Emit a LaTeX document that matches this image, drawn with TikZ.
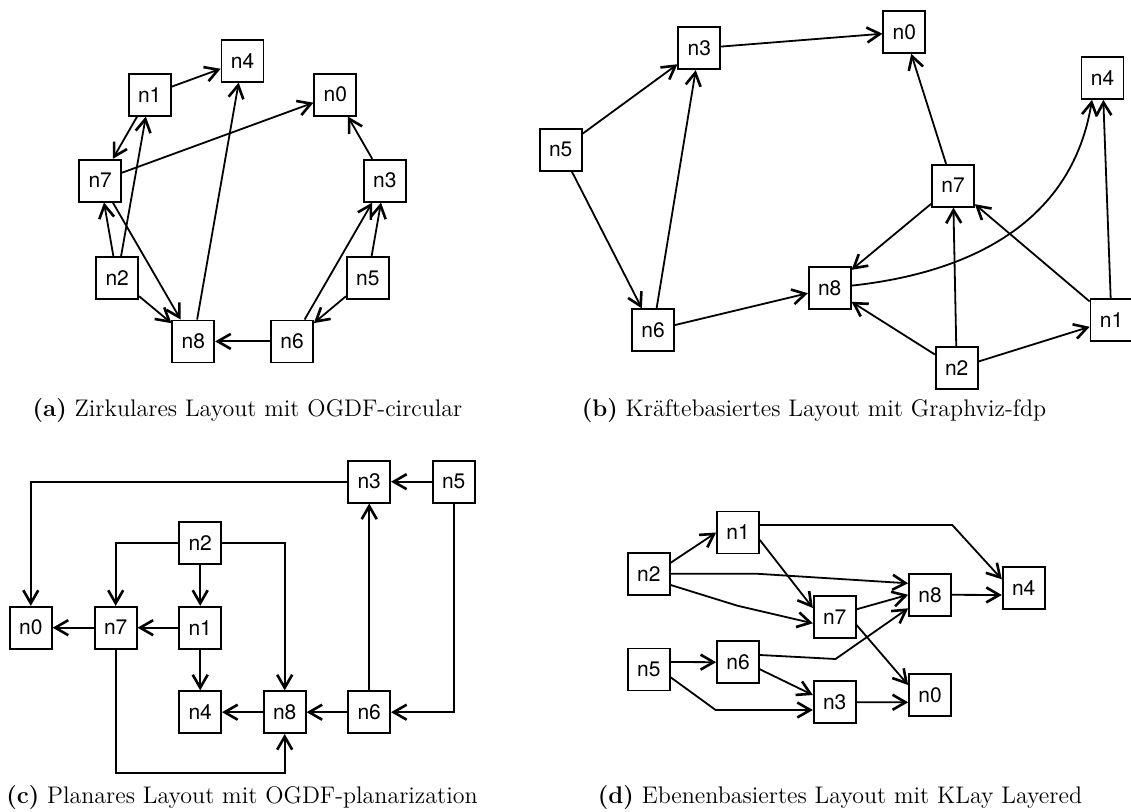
\documentclass[tikz,border=0pt]{standalone}
\usepackage{fontspec}
\newfontfamily\nodefont{TeX Gyre Heros}
\usetikzlibrary{arrows.meta}

\tikzset{
  vertex/.style={draw, rectangle, minimum size=21pt, inner sep=0pt, line width=0.85pt,
                 font=\nodefont\fontsize{10.5}{11}\selectfont},
  subcap/.style={anchor=base, font=\fontsize{12}{14}\selectfont},
}

\begin{document}
\begin{tikzpicture}[x=0.5pt, y=-0.5pt, line width=0.9pt,
                    >={Straight Barb[length=6.5pt,width=7.5pt,line width=1.3pt]}]
\useasboundingbox (0,0) rectangle (1131,812);

% (a) circular
\node[vertex] (a4) at (242.5,60.8) {n4};
\node[vertex] (a1) at (149.7,94.7) {n1};
\node[vertex] (a0) at (335.3,94.7) {n0};
\node[vertex] (a7) at (100.2,180.7) {n7};
\node[vertex] (a3) at (384.8,180.7) {n3};
\node[vertex] (a2) at (117.2,278) {n2};
\node[vertex] (a5) at (367.8,278) {n5};
\node[vertex] (a8) at (193.3,341.4) {n8};
\node[vertex] (a6) at (292,341.4) {n6};
\draw [->] (a1) -- (a4);
\draw [->] (a7) -- (a0);
\draw [->] (a1) -- (a7);
\draw [->] (a2) -- (a1);
\draw [->] (a2) -- (a7);
\draw [->] (a7) -- (a8);
\draw [->] (a2) -- (a8);
\draw [->] (a8) -- (a4);
\draw [->] (a3) -- (a0);
\draw [->] (a6) -- (a3);
\draw [->] (a5) -- (a3);
\draw [->] (a5) -- (a6);
\draw [->] (a6) -- (a8);
\node[subcap] (capa) at (247.5,417) {\textbf{(a)} Zirkulares Layout mit OGDF-circular};

% (b) force directed
\node[vertex] (b3) at (699.3,48.3) {n3};
\node[vertex] (b5) at (560.7,149.7) {n5};
\node[vertex] (b6) at (653,330.3) {n6};
\node[vertex] (b8) at (829.7,288) {n8};
\node[vertex] (b0) at (904.3,32) {n0};
\node[vertex] (b4) at (1102.5,78) {n4};
\node[vertex] (b7) at (953,185.7) {n7};
\node[vertex] (b1) at (1111.5,320) {n1};
\node[vertex] (b2) at (956.7,368.3) {n2};
\draw [->] (b3) -- (b0);
\draw [->] (b5) -- (b3);
\draw [->] (b5) -- (b6);
\draw [->] (b6) -- (b3);
\draw [->] (b6) -- (b8);
\draw [->] (b7) -- (b0);
\draw [->] (b7) -- (b8);
\draw [->] (b8) .. controls (950,275) and (1070,235) .. ([xshift=-5.25pt]b4.south); % curved edge
\draw [->] (b2) -- (b8);
\draw [->] (b2) -- (b7);
\draw [->] (b2) -- (b1);
\draw [->] (b1) -- (b7);
\draw [->] (b1) -- (b4);
\node[subcap] (capb) at (814,417) {\textbf{(b)} Kräftebasiertes Layout mit Graphviz-fdp};

% (c) planarization, orthogonal edges
\node[vertex] (c3) at (369.2,481.7) {n3};
\node[vertex] (c5) at (453.7,481.7) {n5};
\node[vertex] (c2) at (200.2,542.8) {n2};
\node[vertex] (c0) at (30.8,627.7) {n0};
\node[vertex] (c7) at (115.7,627.7) {n7};
\node[vertex] (c1) at (200.2,627.7) {n1};
\node[vertex] (c4) at (200.2,712.2) {n4};
\node[vertex] (c8) at (284.7,712.2) {n8};
\node[vertex] (c6) at (369.2,712.2) {n6};
\coordinate (cbot) at (200,773.3);
\draw [->] (c3.west) -| (c0.north);
\draw [->] (c5) -- (c3);
\draw [->] (c5.south) |- (c6.east);
\draw [->] (c6) -- (c3);
\draw [->] (c6) -- (c8);
\draw [->] (c8) -- (c4);
\draw [->] (c2.west) -| (c7.north);
\draw [->] (c2) -- (c1);
\draw [->] (c2.east) -| (c8.north);
\draw [->] (c1) -- (c7);
\draw [->] (c7) -- (c0);
\draw [->] (c1) -- (c4);
\draw [->] (c7.south) |- (cbot) -| (c8.south);
\node[subcap] (capc) at (242,804) {\textbf{(c)} Planares Layout mit OGDF-planarization};

% (d) layered
\node[vertex] (d2) at (648.8,573.8) {n2};
\node[vertex] (d5) at (648.8,669.5) {n5};
\node[vertex] (d1) at (738,532.5) {n1};
\node[vertex] (d6) at (738,662.2) {n6};
\node[vertex] (d7) at (834.7,616.8) {n7};
\node[vertex] (d3) at (834.7,702.2) {n3};
\node[vertex] (d8) at (930,594.8) {n8};
\node[vertex] (d0) at (930,694.8) {n0};
\node[vertex] (d4) at (1023.7,587.8) {n4};
\draw [->] ([yshift=5.5pt]d2.east) -- (d1.west);
\draw [->] (d2.east) -- ++(87,0) -- ([yshift=5.75pt]d8.west);
\draw [->] ([yshift=-5.6pt]d2.east) -- ++(66.7,20.7) -- ([yshift=-3.25pt]d7.west);
\draw [->] ([yshift=-3.75pt]d1.east) -- ([yshift=4.4pt]d7.west);
\draw [->] ([yshift=3.75pt]d1.east) -- ++(192.4,0) -- ([yshift=4.25pt]d4.west);
\draw [->] ([yshift=3.75pt]d7.east) -- (d8.west);
\draw [->] ([yshift=3.6pt]d6.east) -- ++(75.7,4) -- ([yshift=-6.75pt]d8.west);
\draw [->] ([yshift=-4.1pt]d7.east) -- ([yshift=4.9pt]d0.west);
\draw [->] (d8.east) -- ([yshift=-3.6pt]d4.west);
\draw [->] ([yshift=3.75pt]d5.east) -- (d6.west);
\draw [->] ([yshift=-3.9pt]d5.east) -- ++(45,32.7) -- ([yshift=-3.9pt]d3.west);
\draw [->] ([yshift=-3.55pt]d6.east) -- ([yshift=3.6pt]d3.west);
\draw [->] (d3.east) -- ([yshift=-3.75pt]d0.west);
\node[subcap] (capd) at (840,804) {\textbf{(d)} Ebenenbasiertes Layout mit KLay Layered};
\end{tikzpicture}
\end{document}
